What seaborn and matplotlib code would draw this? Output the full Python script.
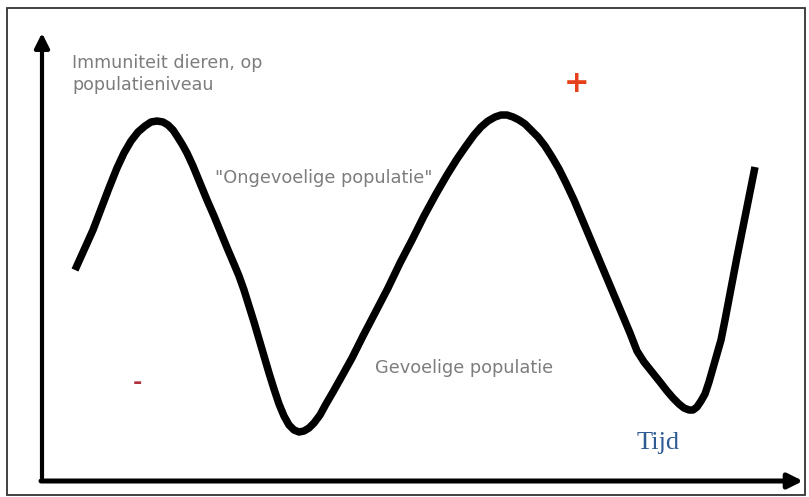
import matplotlib
matplotlib.use("Agg")
import matplotlib.pyplot as plt
import seaborn as sns
from matplotlib.patches import Rectangle

# --- data (time vs. population immunity) ---
tijd = [33, 42, 51, 59, 67, 75, 82, 89, 96, 103, 109, 115, 121, 126, 131,
        135, 140, 145, 151, 158, 165, 172, 179, 186, 192, 197, 202, 207, 212,
        217, 222, 227, 232, 237, 242, 247, 252, 257, 262, 267, 272, 278, 284,
        291, 300, 310, 321, 333, 346, 358, 370, 382, 394, 405, 415, 424, 432,
        439, 446, 453, 459, 465, 471, 477, 483, 489, 496, 503, 510, 517, 524,
        532, 540, 548, 556, 564, 572, 580, 588, 595, 602, 610, 618, 625, 631,
        637, 642, 647, 651, 655, 659, 663, 667, 671, 675, 679, 683, 687, 691,
        695, 699, 703, 707, 710, 713]
immuniteit = [210, 230, 250, 271, 292, 312, 327, 339, 348, 354, 358, 359, 358,
              355, 350, 344, 336, 327, 314, 297, 280, 264, 247, 230, 216, 204,
              190, 174, 158, 141, 124, 107, 91, 76, 64, 55, 50, 48, 49, 52, 57,
              65, 76, 88, 104, 122, 144, 167, 192, 217, 240, 264, 286, 305, 321,
              334, 345, 353, 359, 363, 365, 365, 363, 360, 356, 350, 343, 334,
              323, 311, 297, 280, 261, 242, 223, 204, 185, 166, 147, 129, 118,
              108, 98, 89, 82, 76, 72, 70, 70, 73, 79, 86, 98, 112, 126, 140,
              160, 181, 202, 223, 243, 263, 283, 298, 313]

y_label = "Immuniteit dieren, op\npopulatieniveau"
x_label = "Tijd"
label_ongevoelig = '"Ongevoelige populatie"'
label_gevoelig = "Gevoelige populatie"
plus_sign = "+"
minus_sign = "-"

sns.set_theme(style="white")
plt.rcParams['font.family'] = ['DejaVu Sans']

W, H = 809, 497
fig = plt.figure(figsize=(W / 100, H / 100), dpi=100)
ax = fig.add_axes([0, 0, 1, 1])
ax.set_xlim(-42, W - 42)
ax.set_ylim(480 - H, 480)
ax.set_axis_off()

# outer frame
fig.add_artist(Rectangle((7 / W, 2 / H), (805 - 7) / W, (495 - 8) / H,
                         transform=fig.transFigure, fill=False,
                         edgecolor="#333333", linewidth=1.3))

# axes arrows
ax.annotate("", xy=(0, 447), xytext=(0, 2),
            arrowprops=dict(arrowstyle="-|>", lw=3.0, color="black",
                            mutation_scale=22, shrinkA=0, shrinkB=0))
ax.annotate("", xy=(761, -1), xytext=(-1, -1),
            arrowprops=dict(arrowstyle="-|>", lw=3.6, color="black",
                            mutation_scale=22, shrinkA=0, shrinkB=0))

# the curve
sns.lineplot(x=tijd, y=immuniteit, sort=False, ax=ax, color="black",
             linewidth=5.4, solid_capstyle="butt", solid_joinstyle="round")

gray = "#7d7d7d"
ax.text(72 - 42, 480 - 54, y_label, color=gray, fontsize=12.6,
        ha="left", va="top", linespacing=1.25)
ax.text(215 - 42, 480 - 178, label_ongevoelig, color=gray, fontsize=12.8,
        ha="left", va="center")
ax.text(375 - 42, 480 - 368, label_gevoelig, color=gray, fontsize=12.8,
        ha="left", va="center")
ax.text(577 - 42, 480 - 84, plus_sign, color="#E5401A", fontsize=22,
        fontweight="bold", ha="center", va="center")
ax.text(137 - 42, 480 - 383, minus_sign, color="#B0303C", fontsize=16,
        fontweight="bold", ha="center", va="center")
ax.text(658 - 42, 480 - 443, x_label, color="#2F5B94", fontsize=19,
        family=["Liberation Serif"], ha="center", va="center")

fig.savefig("out.png", dpi=100)
